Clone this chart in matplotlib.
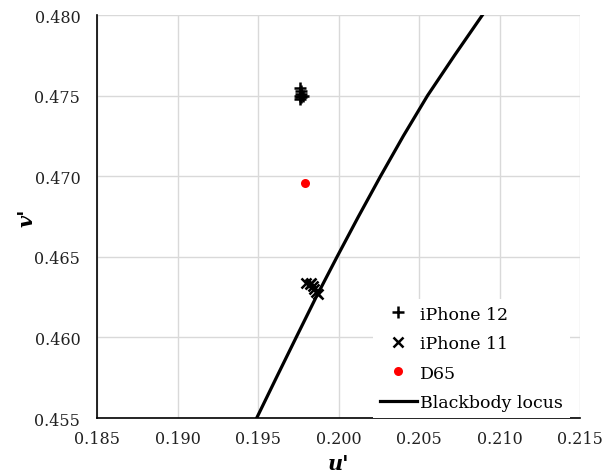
import matplotlib
matplotlib.use("Agg")
import matplotlib.pyplot as plt

plt.rcParams['font.family'] = ['DejaVu Serif']

# iPhone 12 measurements (u', v')
ip12_u = [0.1976, 0.1977, 0.1976, 0.1977, 0.1978, 0.1976, 0.1977]
ip12_v = [0.4755, 0.4751, 0.4750, 0.4749, 0.4750, 0.4748, 0.4753]

# iPhone 11 measurements
ip11_u = [0.1980, 0.1983, 0.1982, 0.1984, 0.1985, 0.1986, 0.1987]
ip11_v = [0.4634, 0.4634, 0.4633, 0.4632, 0.4630, 0.4628, 0.4627]

# D65 white point
d65_u = [0.1979]
d65_v = [0.4696]

# blackbody locus
bb_u = [0.19492, 0.19614, 0.19737, 0.19861, 0.19991, 0.20124,
        0.20261, 0.20403, 0.20553, 0.20721, 0.20894]
bb_v = [0.4550, 0.4575, 0.4600, 0.4625, 0.4650, 0.4675,
        0.4700, 0.4725, 0.4750, 0.4775, 0.4800]

xticks = [0.185, 0.190, 0.195, 0.200, 0.205, 0.210, 0.215]
yticks = [0.455, 0.460, 0.465, 0.470, 0.475, 0.480]

fig = plt.figure(figsize=(6.02, 4.77), dpi=100)
ax = fig.add_axes([97/602, 1-419/477, 483/602, 403/477])

ax.plot(ip12_u, ip12_v, '+', color='black', ms=9, mew=1.8, label='iPhone 12', zorder=3)
ax.plot(ip11_u, ip11_v, 'x', color='black', ms=6.5, mew=1.8, label='iPhone 11', zorder=3)
ax.plot(d65_u, d65_v, 'o', color='#ff0000', ms=6.5, mec='none', label='D65', zorder=3)
ax.plot(bb_u, bb_v, '-', color='black', lw=2.3, label='Blackbody locus', zorder=2,
        solid_joinstyle='round')

ax.set_xlim(0.185, 0.215)
ax.set_ylim(0.455, 0.480)
ax.set_xticks(xticks)
ax.set_yticks(yticks)
ax.set_xticklabels(['%.3f' % t for t in xticks])
ax.set_yticklabels(['%.3f' % t for t in yticks])
ax.tick_params(axis='x', length=0, labelsize=11.5, colors='#222222', pad=9)
ax.tick_params(axis='y', length=0, labelsize=11.5, colors='#222222', pad=12)
ax.grid(True, color='#d9d9d9', lw=1)
ax.set_axisbelow(True)
for s in ['top', 'right']:
    ax.spines[s].set_visible(False)
for s in ['left', 'bottom']:
    ax.spines[s].set_color('black')
    ax.spines[s].set_linewidth(1.2)

ax.set_xlabel("u'", fontsize=15, fontweight='bold', style='italic')
ax.set_ylabel("v'", fontsize=15, fontweight='bold', style='italic')
ax.xaxis.set_label_coords(0.5, -0.088)
ax.yaxis.set_label_coords(-0.126, 0.5)

leg = ax.legend(loc='lower right', bbox_to_anchor=(0.979, 0.0), fontsize=12.5,
                frameon=True, framealpha=1, edgecolor='none', fancybox=False,
                handlelength=2.1, handletextpad=0.2, labelspacing=0.72,
                borderaxespad=0, borderpad=0.4)
leg.get_frame().set_facecolor('white')

fig.savefig('out.png', dpi=100)
